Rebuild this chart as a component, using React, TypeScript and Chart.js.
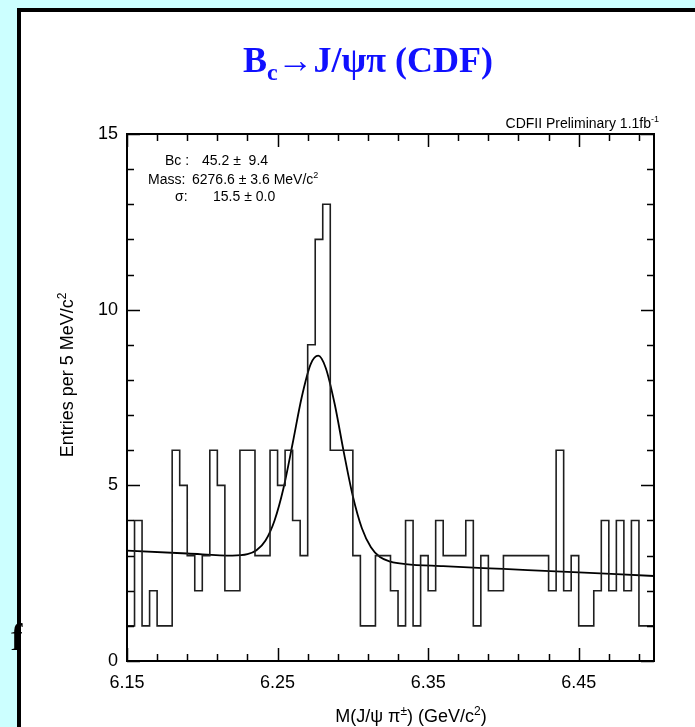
import React, { useEffect, useRef } from "react";
import { Chart, registerables } from "chart.js";

Chart.register(...registerables);

// ---- data ----
const X_MIN = 6.15;
const X_MAX = 6.5;
const BIN_WIDTH = 0.005;
const Y_MIN = 0;
const Y_MAX = 15;

const COUNTS = [
  1, 4, 1, 2, 1, 1, 6, 5, 3, 2,
  3, 6, 5, 2, 2, 6, 6, 3, 3, 6,
  5, 6, 4, 3, 9, 12, 13, 6, 6, 6,
  3, 1, 1, 3, 3, 2, 1, 4, 1, 3,
  2, 4, 3, 3, 3, 4, 1, 3, 2, 2,
  3, 3, 3, 3, 3, 3, 2, 6, 2, 3,
  1, 1, 2, 4, 2, 4, 2, 4, 1, 1,
];

const FIT_X = [
  6.15, 6.19, 6.22, 6.23, 6.236, 6.242, 6.248, 6.254, 6.26, 6.266, 6.272,
  6.277, 6.282, 6.288, 6.294, 6.3, 6.306, 6.312, 6.318, 6.325, 6.335, 6.36,
  6.4, 6.45, 6.5,
];
const FIT_Y = [
  3.14, 3.06, 3.0, 3.04, 3.15, 3.43, 4.0, 4.93, 6.19, 7.5, 8.45,
  8.69, 8.34, 7.3, 5.94, 4.69, 3.78, 3.24, 2.96, 2.83, 2.76, 2.7,
  2.62, 2.52, 2.42,
];

const X_TICKS = [
  6.15, 6.17, 6.19, 6.21, 6.23, 6.25, 6.27, 6.29, 6.31, 6.33, 6.35, 6.37,
  6.39, 6.41, 6.43, 6.45, 6.47, 6.49,
];
const X_LABELS = [6.15, 6.25, 6.35, 6.45];
const Y_TICKS = [0, 1, 2, 3, 4, 5, 6, 7, 8, 9, 10, 11, 12, 13, 14, 15];
const Y_LABELS = [0, 5, 10, 15];

const TITLE_MAIN = "B";
const TITLE_SUB = "c";
const TITLE_REST = "\u2192J/\u03c8\u03c0 (CDF)";
const PRELIM_TEXT = "CDFII Preliminary 1.1fb";
const PRELIM_SUP = "-1";
const STAT_LABELS = ["Bc :", "Mass:", "\u03c3:"];
const STAT_VALUES = ["45.2 \u00b1  9.4", "6276.6 \u00b1 3.6 MeV/c", "15.5 \u00b1 0.0"];
const X_TITLE = ["M(J/\u03c8 \u03c0", "\u00b1", ") (GeV/c", "2", ")"];
const Y_TITLE = ["Entries per 5 MeV/c", "2"];

const SANS = '"Liberation Sans", Arial, Helvetica, sans-serif';
const SERIF = '"Liberation Serif", "Times New Roman", serif';

type Run = { t: string; size: number; dy?: number; weight?: string; family?: string };

function fontOf(r: Run) {
  return `${r.weight || "normal"} ${r.size}px ${r.family || SANS}`;
}

function drawRuns(ctx: CanvasRenderingContext2D, runs: Run[], x: number, y: number, align: string) {
  const widths = runs.map((r) => {
    ctx.font = fontOf(r);
    return ctx.measureText(r.t).width;
  });
  const total = widths.reduce((a, b) => a + b, 0);
  let cx = align === "left" ? x : align === "center" ? x - total / 2 : x - total;
  ctx.textAlign = "left";
  ctx.textBaseline = "alphabetic";
  runs.forEach((r, i) => {
    ctx.font = fontOf(r);
    ctx.fillText(r.t, cx, y + (r.dy || 0));
    cx += widths[i];
  });
}

const isIn = (arr: number[], v: number) => arr.some((l) => Math.abs(l - v) < 1e-6);

const backdrop = {
  id: "backdrop",
  beforeDraw(chart: any) {
    const { ctx, width, height } = chart;
    ctx.save();
    ctx.fillStyle = "#ccffff";
    ctx.fillRect(0, 0, width, height);
    ctx.fillStyle = "#ffffff";
    ctx.fillRect(17, 8, width - 17, height - 8);
    ctx.fillStyle = "#000000";
    ctx.fillRect(17, 8, 4, height - 8);
    ctx.fillRect(17, 8, width - 17, 4);
    ctx.restore();
  },
};

const overlay = {
  id: "overlay",
  afterDraw(chart: any) {
    const { ctx, chartArea: a, scales } = chart;
    const x = scales.x;
    const y = scales.y;
    ctx.save();
    // frame
    ctx.strokeStyle = "#000";
    ctx.lineWidth = 2;
    ctx.strokeRect(a.left, a.top, a.right - a.left, a.bottom - a.top);
    // ticks (inward, mirrored)
    ctx.lineWidth = 1.5;
    ctx.beginPath();
    for (const v of X_TICKS) {
      const px = Math.round(x.getPixelForValue(v)) + 0.5;
      const len = isIn(X_LABELS, v) ? 13 : 7;
      ctx.moveTo(px, a.bottom);
      ctx.lineTo(px, a.bottom - len);
      ctx.moveTo(px, a.top);
      ctx.lineTo(px, a.top + len);
    }
    for (const v of Y_TICKS) {
      const py = Math.round(y.getPixelForValue(v)) + 0.5;
      const len = isIn(Y_LABELS, v) ? 13 : 7;
      ctx.moveTo(a.left, py);
      ctx.lineTo(a.left + len, py);
      ctx.moveTo(a.right, py);
      ctx.lineTo(a.right - len, py);
    }
    ctx.stroke();

    ctx.fillStyle = "#000";
    // preliminary label
    drawRuns(ctx, [{ t: PRELIM_TEXT, size: 14 }, { t: PRELIM_SUP, size: 9, dy: -6 }], 659, 128, "right");
    // stats
    drawRuns(ctx, [{ t: STAT_LABELS[0], size: 14 }], 165, 165, "left");
    drawRuns(ctx, [{ t: STAT_VALUES[0], size: 14 }], 202, 165, "left");
    drawRuns(ctx, [{ t: STAT_LABELS[1], size: 14 }], 148, 184, "left");
    drawRuns(ctx, [{ t: STAT_VALUES[1], size: 14 }, { t: "2", size: 9, dy: -6 }], 192, 184, "left");
    drawRuns(ctx, [{ t: STAT_LABELS[2], size: 14 }], 175, 201, "left");
    drawRuns(ctx, [{ t: STAT_VALUES[2], size: 14 }], 213, 201, "left");
    // x title
    drawRuns(
      ctx,
      [
        { t: X_TITLE[0], size: 18 },
        { t: X_TITLE[1], size: 12, dy: -7 },
        { t: X_TITLE[2], size: 18 },
        { t: X_TITLE[3], size: 12, dy: -7 },
        { t: X_TITLE[4], size: 18 },
      ],
      411,
      722,
      "center"
    );
    // y title
    ctx.save();
    ctx.translate(73, 375);
    ctx.rotate(-Math.PI / 2);
    drawRuns(ctx, [{ t: Y_TITLE[0], size: 18 }, { t: Y_TITLE[1], size: 12, dy: -7 }], 0, 0, "center");
    ctx.restore();
    // main title
    ctx.fillStyle = "#1010ff";
    drawRuns(
      ctx,
      [
        { t: TITLE_MAIN, size: 36, weight: "bold", family: SERIF },
        { t: TITLE_SUB, size: 24, weight: "bold", family: SERIF, dy: 8 },
        { t: TITLE_REST, size: 36, weight: "bold", family: SERIF },
      ],
      368,
      72,
      "center"
    );
    // stray glyph at the left edge
    ctx.fillStyle = "#000";
    drawRuns(ctx, [{ t: "f", size: 38, family: SERIF }], 10, 650, "left");
    ctx.restore();
  },
};

export default function App() {
  const ref = useRef<HTMLCanvasElement>(null);
  useEffect(() => {
    const histData = COUNTS.map((c, i) => ({ x: X_MIN + i * BIN_WIDTH, y: c }));
    histData.push({ x: X_MAX, y: COUNTS[COUNTS.length - 1] });
    const fitData = FIT_X.map((v, i) => ({ x: v, y: FIT_Y[i] }));
    const chart = new Chart(ref.current as HTMLCanvasElement, {
      type: "line",
      data: {
        datasets: [
          {
            data: histData,
            stepped: true,
            borderColor: "#1e1e1e",
            borderWidth: 1.6,
            pointRadius: 0,
            fill: false,
          },
          {
            data: fitData,
            borderColor: "#000",
            borderWidth: 1.8,
            pointRadius: 0,
            tension: 0.4,
            cubicInterpolationMode: "monotone",
            fill: false,
          },
        ],
      } as any,
      options: {
        responsive: false,
        animation: false,
        devicePixelRatio: 1,
        layout: { padding: { left: 0, right: 41, top: 134, bottom: 0 } },
        plugins: {
          legend: { display: false },
          tooltip: { enabled: false },
          title: { display: false },
        },
        scales: {
          x: {
            type: "linear",
            min: X_MIN,
            max: X_MAX,
            grid: { display: false, drawTicks: false },
            border: { display: false },
            afterBuildTicks: (s: any) => {
              s.ticks = X_TICKS.map((v) => ({ value: v }));
            },
            afterFit: (s: any) => {
              s.height = 66;
            },
            ticks: {
              autoSkip: false,
              maxRotation: 0,
              minRotation: 0,
              padding: 11,
              color: "#000",
              font: { family: SANS, size: 18 },
              callback: (v: any) => (isIn(X_LABELS, Number(v)) ? Number(v).toFixed(2) : ""),
            },
          },
          y: {
            type: "linear",
            min: Y_MIN,
            max: Y_MAX,
            grid: { display: false, drawTicks: false },
            border: { display: false },
            afterBuildTicks: (s: any) => {
              s.ticks = Y_TICKS.map((v) => ({ value: v }));
            },
            afterFit: (s: any) => {
              s.width = 127;
            },
            ticks: {
              autoSkip: false,
              padding: 9,
              color: "#000",
              font: { family: SANS, size: 18 },
              callback: (v: any) => (isIn(Y_LABELS, Number(v)) ? String(v) : ""),
            },
          },
        },
      } as any,
      plugins: [backdrop, overlay],
    });
    return () => chart.destroy();
  }, []);
  return (
    <div style={{ position: "fixed", left: 0, top: 0, width: 695, height: 727 }}>
      <canvas ref={ref} width={695} height={727} style={{ width: 695, height: 727, display: "block" }} />
    </div>
  );
}
